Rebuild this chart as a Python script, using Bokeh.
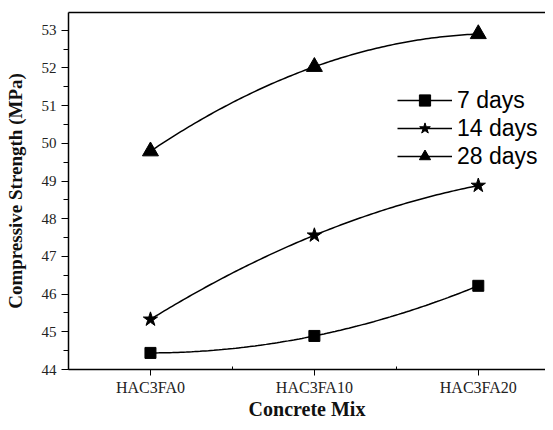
import numpy as np
from bokeh.plotting import figure
from bokeh.models import (FixedTicker, SingleIntervalTicker, LinearAxis, Range1d,
                          Legend, LegendItem)
from bokeh.embed import file_html
from bokeh.resources import INLINE

mixes = ["HAC3FA0", "HAC3FA10", "HAC3FA20"]
days7 = [44.44, 44.89, 46.22]
days14 = [45.33, 47.56, 48.88]
days28 = [49.79, 52.03, 52.90]
series_names = ["7 days", "14 days", "28 days"]
markers = ["square", "star", "triangle"]
marker_sizes = [11, 15, 16]

xpos = np.arange(len(mixes))

p = figure(width=545, height=422, output_backend="svg", toolbar_location=None,
           x_range=Range1d(-0.5, 2.41), y_range=Range1d(44, 53.47),
           min_border_left=68, min_border_right=0, min_border_top=12,
           min_border_bottom=0)
p.outline_line_color = None
p.grid.visible = False
p.background_fill_color = "white"

serif = "Liberation Serif"

xa = p.xaxis[0]
xa.ticker = FixedTicker(ticks=list(xpos), minor_ticks=[0.5, 1.5])
xa.major_label_overrides = {int(i): m for i, m in enumerate(mixes)}
xa.axis_label = "Concrete Mix"
ya = p.yaxis[0]
ya.ticker = SingleIntervalTicker(interval=1, num_minor_ticks=2)
ya.axis_label = "Compressive Strength (MPa)"

for ax, lab_size in ((xa, "16px"), (ya, "15px")):
    ax.axis_line_color = "black"
    ax.axis_line_width = 1.5
    ax.major_tick_line_color = "black"
    ax.minor_tick_line_color = "black"
    ax.major_label_text_font = serif
    ax.major_label_text_font_size = lab_size
    ax.major_label_text_color = "#222222"
    ax.axis_label_text_font = serif
    ax.axis_label_text_font_style = "bold"
    ax.axis_label_text_color = "#111111"

xa.major_tick_out = 6
xa.major_tick_in = 0
xa.minor_tick_out = 0
xa.minor_tick_in = 3
xa.major_label_standoff = 3
xa.axis_label_text_font_size = "20px"
xa.axis_label_standoff = -1

ya.major_tick_out = 7
ya.major_tick_in = 0
ya.minor_tick_out = 5
ya.minor_tick_in = 0
ya.major_label_standoff = 5
ya.axis_label_text_font_size = "19px"
ya.axis_label_standoff = 13

top = LinearAxis(ticker=FixedTicker(ticks=[]), major_label_text_font_size="0px",
                 major_tick_out=0, major_tick_in=0, minor_tick_out=0, minor_tick_in=0,
                 axis_line_color="black", axis_line_width=1.5)
p.add_layout(top, "above")

items = []
tt = np.linspace(0, 2, 120)
for name, vals, mk, ms in zip(series_names, [days7, days14, days28], markers, marker_sizes):
    coef = np.polyfit(xpos, vals, 2)
    curve = np.polyval(coef, tt)
    r1 = p.line(tt, curve, line_color="black", line_width=1.5)
    r2 = p.scatter(xpos, vals, marker=mk, size=ms, fill_color="black", line_color="black")
    items.append(LegendItem(label=name, renderers=[r1, r2]))

legend = Legend(items=items, location=(329, 199))
legend.label_text_font = "Liberation Sans"
legend.label_text_font_size = "23px"
legend.label_text_color = "black"
legend.glyph_width = 55
legend.glyph_height = 28
legend.label_height = 28
legend.spacing = 0
legend.padding = 0
legend.margin = 0
legend.label_standoff = 5
legend.border_line_color = None
legend.background_fill_alpha = 0
p.add_layout(legend, "center")

open("out.html", "w").write(file_html(p, INLINE))
